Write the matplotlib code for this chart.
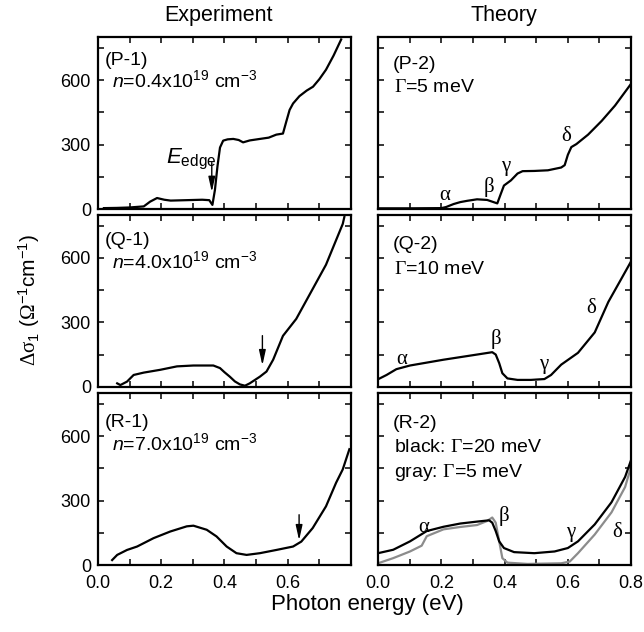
import matplotlib
matplotlib.use("Agg")
import matplotlib.pyplot as plt
from matplotlib.ticker import MultipleLocator

plt.rcParams['font.family'] = ['Liberation Sans', 'DejaVu Sans']
plt.rcParams['mathtext.fontset'] = 'custom'
plt.rcParams['mathtext.rm'] = 'Liberation Sans'
plt.rcParams['mathtext.it'] = 'Liberation Sans:italic'
plt.rcParams['mathtext.cal'] = 'Liberation Serif'

# ---- data ----
# (P-1) experiment, n=0.4e19
p1_x = [0.019, 0.06, 0.10, 0.145, 0.165, 0.187, 0.21, 0.23, 0.28, 0.33, 0.352, 0.362,
        0.370, 0.378, 0.386, 0.396, 0.41, 0.428, 0.445, 0.459, 0.48, 0.512, 0.54, 0.564,
        0.585, 0.595, 0.606, 0.617, 0.637, 0.66, 0.68, 0.70, 0.721, 0.745, 0.769]
p1_y = [5, 6, 8, 13, 35, 52, 44, 40, 42, 44, 42, 20,
        90, 200, 287, 319, 325, 327, 322, 311, 320, 327, 333, 347,
        352, 405, 462, 492, 526, 552, 570, 605, 649, 715, 790]

# (P-2) theory, Gamma=5 meV
p2_x = [0.0, 0.10, 0.20, 0.215, 0.239, 0.26, 0.282, 0.313, 0.345, 0.367, 0.377, 0.388,
        0.398, 0.42, 0.441, 0.457, 0.494, 0.537, 0.579, 0.59, 0.60, 0.611, 0.627, 0.664,
        0.707, 0.749, 0.80]
p2_y = [4, 4, 5, 10, 24, 33, 39, 46, 43, 32, 27, 71,
        110, 134, 166, 177, 178, 181, 194, 205, 253, 289, 303, 347,
        411, 482, 584]

# (Q-1) experiment, n=4.0e19
q1_x = [0.061, 0.071, 0.092, 0.113, 0.145, 0.197, 0.25, 0.302, 0.365, 0.386, 0.40,
        0.417, 0.433, 0.449, 0.465, 0.48, 0.512, 0.533, 0.554, 0.585, 0.627, 0.68,
        0.721, 0.774, 0.779]
q1_y = [16, 8, 24, 55, 66, 79, 95, 99, 99, 87, 68,
        47, 25, 11, 5, 16, 47, 71, 126, 237, 316, 458,
        568, 758, 790]

# (Q-2) theory, Gamma=10 meV
q2_x = [0.0, 0.027, 0.058, 0.101, 0.207, 0.313, 0.361, 0.372, 0.383, 0.393, 0.409,
        0.441, 0.483, 0.526, 0.547, 0.579, 0.632, 0.685, 0.728, 0.77, 0.80]
q2_y = [35, 55, 82, 99, 126, 150, 161, 150, 110, 63, 39,
        32, 32, 36, 55, 103, 158, 253, 395, 505, 584]

# (R-1) experiment, n=7.0e19
r1_x = [0.045, 0.061, 0.092, 0.124, 0.176, 0.229, 0.281, 0.302, 0.344, 0.375, 0.407,
        0.438, 0.47, 0.512, 0.564, 0.617, 0.643, 0.679, 0.721, 0.753, 0.774, 0.795]
r1_y = [23, 47, 70, 86, 125, 156, 180, 183, 164, 133, 86,
        55, 47, 55, 70, 86, 109, 172, 273, 383, 445, 539]

# (R-2) theory, black Gamma=20 meV, gray Gamma=5 meV
r2b_x = [0.0, 0.048, 0.101, 0.154, 0.207, 0.26, 0.313, 0.351, 0.361, 0.372, 0.383,
         0.398, 0.43, 0.494, 0.558, 0.60, 0.632, 0.685, 0.738, 0.781, 0.80]
r2b_y = [55, 71, 110, 158, 178, 193, 202, 208, 197, 158, 110,
         79, 60, 55, 63, 79, 110, 189, 292, 410, 489]
r2g_x = [0.0, 0.048, 0.101, 0.138, 0.154, 0.207, 0.26, 0.313, 0.345, 0.361, 0.372,
         0.383, 0.393, 0.409, 0.473, 0.579, 0.606, 0.632, 0.685, 0.738, 0.781, 0.80]
r2g_y = [8, 32, 63, 90, 134, 166, 177, 186, 205, 221, 197,
         110, 32, 11, 5, 8, 16, 55, 142, 245, 363, 458]

greek = ['α', 'β', 'γ', 'δ']
p2_greek_x = [0.212, 0.35, 0.404, 0.595]
p2_greek_y = [63, 103, 197, 340]
q2_greek_x = [0.074, 0.372, 0.524, 0.673]
q2_greek_y = [126, 221, 103, 363]
r2_greek_x = [0.143, 0.398, 0.61, 0.757]
r2_greek_y = [174, 229, 150, 150]

# arrows (x, tail y, tip y)
arrows_exp = [(0.36, 217, 80), (0.52, 238, 100), (0.636, 234, 115)]

fig = plt.figure(figsize=(6.44, 6.32), dpi=100)

lefts = [0.152, 0.587]
width = 0.393
bottoms = [0.669, 0.388, 0.106]
height = 0.272

axes = {}
for r, b in enumerate(bottoms):
    for c, l in enumerate(lefts):
        ax = fig.add_axes([l, b, width, height])
        ax.set_xlim(0, 0.8)
        ax.set_ylim(0, 800)
        ax.xaxis.set_minor_locator(MultipleLocator(0.1))
        ax.yaxis.set_minor_locator(MultipleLocator(150))
        ax.set_yticks([0, 300, 600], ['0', '300', '600'])
        if c == 0:
            ax.set_xticks([0.0, 0.2, 0.4, 0.6, 0.8], ['0.0', '0.2', '0.4', '0.6', ''])
        else:
            ax.set_xticks([0.0, 0.2, 0.4, 0.6, 0.8], ['0.0', '0.2', '0.4', '0.6', '0.8'])
        ax.tick_params(which='both', direction='in', top=True, right=True,
                       labelsize=13, width=1.1, length=4)
        ax.tick_params(axis='x', pad=7)
        ax.tick_params(axis='y', pad=5)
        for s in ax.spines.values():
            s.set_linewidth(1.6)
        if c == 1:
            ax.tick_params(labelleft=False)
        if r < 2:
            ax.tick_params(labelbottom=False)
        axes[(r, c)] = ax

lw = 1.6
axes[(0, 0)].plot(p1_x, p1_y, color='k', lw=lw)
axes[(0, 1)].plot(p2_x, p2_y, color='k', lw=lw)
axes[(1, 0)].plot(q1_x, q1_y, color='k', lw=lw)
axes[(1, 1)].plot(q2_x, q2_y, color='k', lw=lw)
axes[(2, 0)].plot(r1_x, r1_y, color='k', lw=lw)
axes[(2, 1)].plot(r2g_x, r2g_y, color='#8c8c8c', lw=lw)
axes[(2, 1)].plot(r2b_x, r2b_y, color='k', lw=lw)

# panel labels
tfs = 14
axes[(0, 0)].text(0.022, 690, '(P-1)', fontsize=tfs, va='center')
axes[(0, 0)].text(0.045, 600, '$n$=0.4x10$^{19}$ cm$^{-3}$', fontsize=tfs, va='center')
axes[(1, 0)].text(0.022, 680, '(Q-1)', fontsize=tfs, va='center')
axes[(1, 0)].text(0.045, 585, '$n$=4.0x10$^{19}$ cm$^{-3}$', fontsize=tfs, va='center')
axes[(2, 0)].text(0.022, 665, '(R-1)', fontsize=tfs, va='center')
axes[(2, 0)].text(0.045, 565, '$n$=7.0x10$^{19}$ cm$^{-3}$', fontsize=tfs, va='center')

axes[(0, 1)].text(0.045, 675, '(P-2)', fontsize=tfs, va='center')
axes[(0, 1)].text(0.05, 565, r'$\mathcal{\Gamma}$=5 meV', fontsize=tfs, va='center')
axes[(1, 1)].text(0.045, 660, '(Q-2)', fontsize=tfs, va='center')
axes[(1, 1)].text(0.05, 545, r'$\mathcal{\Gamma}$=10 meV', fontsize=tfs, va='center')
axes[(2, 1)].text(0.045, 660, '(R-2)', fontsize=tfs, va='center')
axes[(2, 1)].text(0.05, 545, r'black: $\mathcal{\Gamma}$=20 meV', fontsize=tfs, va='center')
axes[(2, 1)].text(0.05, 430, r'gray: $\mathcal{\Gamma}$=5 meV', fontsize=tfs, va='center')

for key, gx, gy in [((0, 1), p2_greek_x, p2_greek_y),
                    ((1, 1), q2_greek_x, q2_greek_y),
                    ((2, 1), r2_greek_x, r2_greek_y)]:
    for g, x, y in zip(greek, gx, gy):
        axes[key].text(x, y, g, fontsize=15, family='Liberation Serif',
                       ha='center', va='center')

# arrows on experimental panels
for r, (x, y0, y1) in enumerate(arrows_exp):
    axes[(r, 0)].annotate('', xy=(x, y1), xytext=(x, y0),
                          arrowprops=dict(arrowstyle='-|>,head_length=0.9,head_width=0.2',
                                          color='k', lw=1.0, shrinkA=0, shrinkB=0))
axes[(0, 0)].text(0.215, 232, r'$E_{\mathrm{edge}}$', fontsize=16, va='center')

fig.text(0.339, 0.976, 'Experiment', fontsize=15.5, ha='center', va='center')
fig.text(0.783, 0.976, 'Theory', fontsize=15.5, ha='center', va='center')
fig.text(0.57, 0.043, 'Photon energy (eV)', fontsize=16, ha='center', va='center')
fig.text(0.045, 0.525, r'$\mathcal{\Delta\sigma}_1$ ($\mathcal{\Omega}^{-1}$cm$^{-1}$)',
         fontsize=15, ha='center', va='center', rotation=90)

fig.savefig('out.png', dpi=100)
